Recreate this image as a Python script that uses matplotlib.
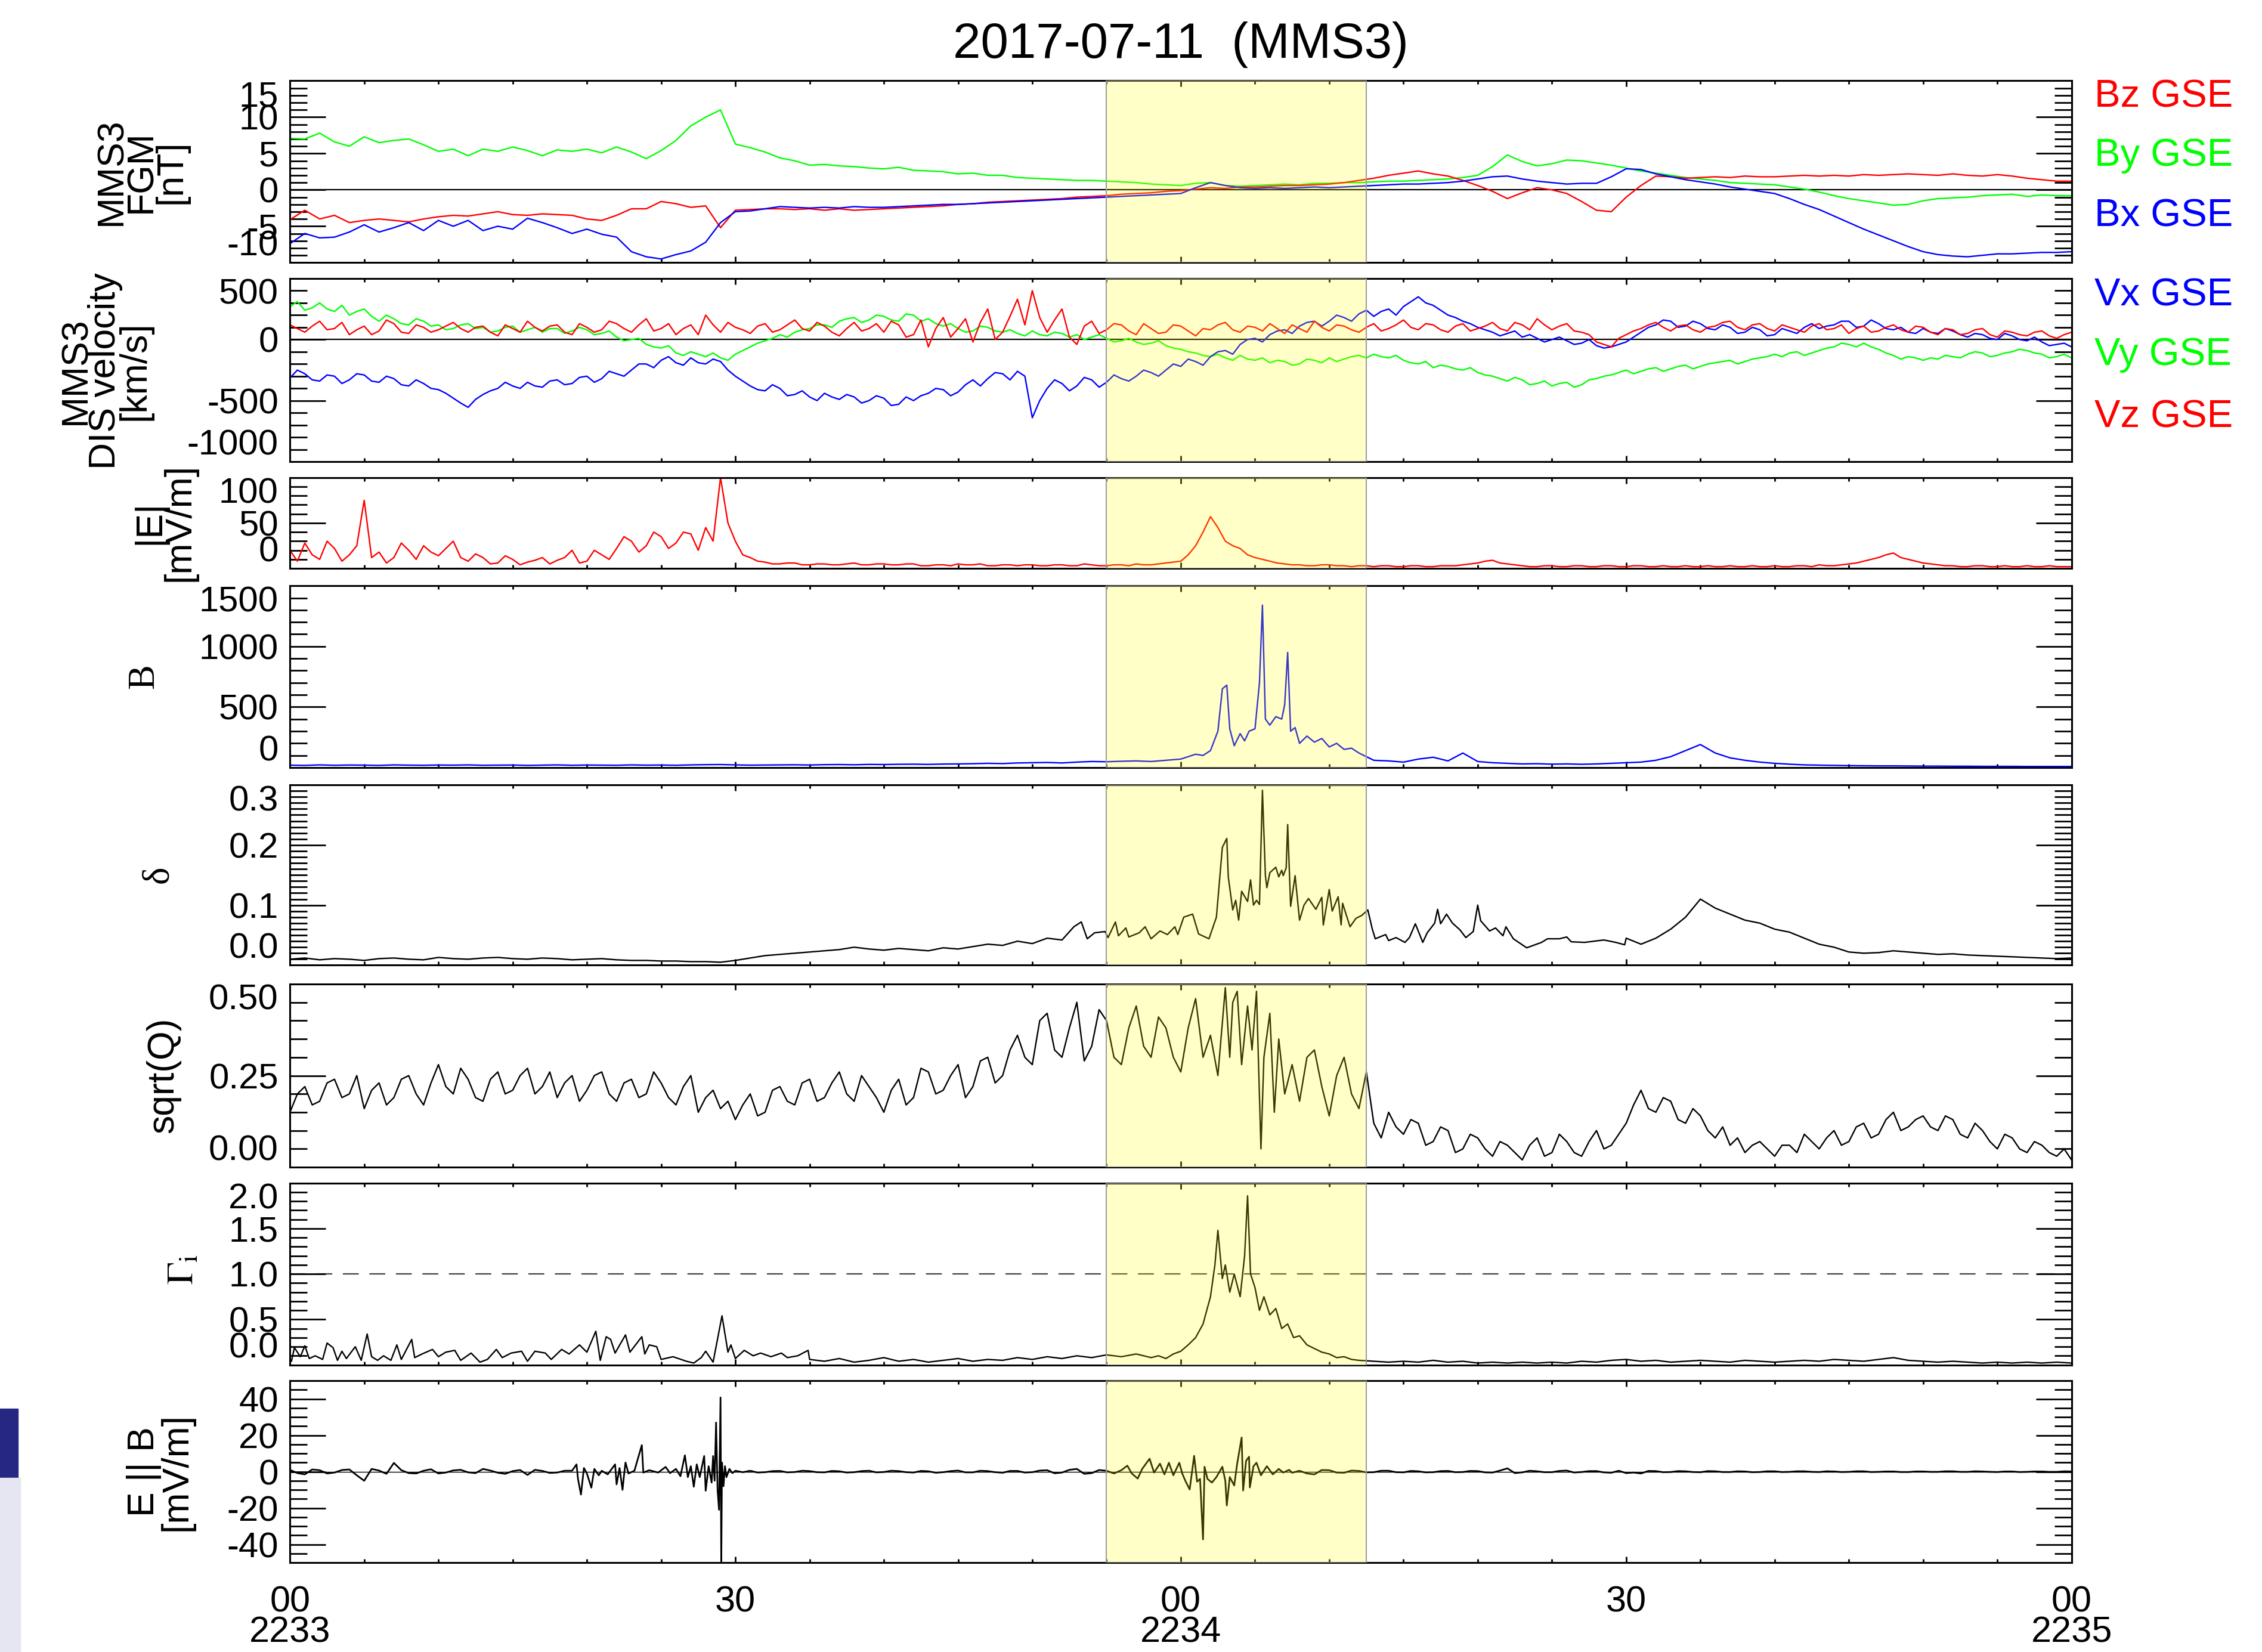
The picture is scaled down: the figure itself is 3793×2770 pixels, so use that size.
import numpy as np
import matplotlib
matplotlib.use("Agg")
import matplotlib.pyplot as plt
from matplotlib.ticker import MultipleLocator, FormatStrFormatter
from matplotlib.patches import Rectangle

plt.rcParams['font.family'] = ['Liberation Sans', 'DejaVu Sans']
plt.rcParams['mathtext.fontset'] = 'stix'
plt.rcParams['axes.unicode_minus'] = False

# ---- data, seconds after 22:33:00 ----
# "*_half" lists hold the readings taken half-way between whole seconds
bz_gse = [-4.1, -2.8, -4.0, -3.5, -4.5, -4.2, -4.0, -4.2, -4.4, -4.0,
          -3.7, -3.5, -3.6, -3.3, -3.0, -3.4, -3.5, -3.3, -3.4, -3.5,
          -4.0, -4.2, -3.5, -2.6, -2.6, -1.6, -1.9, -2.4, -2.2, -5.2,
          -2.8, -2.7, -2.6, -2.6, -2.7, -2.6, -2.8, -2.6, -2.8, -2.7,
          -2.6, -2.5, -2.4, -2.3, -2.2, -2.0, -1.9, -1.7, -1.6, -1.5,
          -1.4, -1.3, -1.2, -1.0, -0.9, -0.8, -0.6, -0.5, -0.4, -0.2,
          -0.1, 0.1, 0.3, 0.2, 0.4, 0.4, 0.5, 0.6, 0.6, 0.7,
          0.8, 1.0, 1.3, 1.6, 2.0, 2.3, 2.6, 2.2, 1.9, 1.3,
          0.6, -0.2, -1.2, -0.4, 0.3, 0.0, -0.5, -1.6, -2.8, -3.0,
          -1.0, 0.6, 1.9, 1.8, 1.6, 1.7, 1.8, 1.7, 1.9, 1.8,
          1.8, 1.9, 2.0, 1.9, 2.0, 1.9, 2.1, 2.0, 2.1, 2.2,
          2.1, 2.0, 2.2, 2.0, 1.9, 2.1, 1.9, 1.6, 1.4, 1.2,
          1.2]
by_gse = [7.1, 7.0, 7.8, 6.6, 6.0, 7.3, 6.5, 6.8, 7.0, 6.2,
          5.3, 5.6, 4.7, 5.6, 5.3, 5.9, 5.4, 4.7, 5.5, 5.3,
          5.6, 5.1, 5.9, 5.2, 4.3, 5.4, 6.8, 8.8, 10.0, 11.0,
          6.3, 5.8, 5.2, 4.4, 4.0, 3.4, 3.5, 3.3, 3.2, 3.0,
          2.9, 3.1, 2.7, 2.6, 2.5, 2.2, 2.3, 2.0, 2.0, 1.7,
          1.6, 1.5, 1.4, 1.3, 1.3, 1.2, 1.1, 1.0, 0.8, 0.7,
          0.6, 0.9, 1.0, 0.6, 0.5, 0.6, 0.7, 0.8, 0.7, 0.9,
          0.9, 1.0, 1.0, 1.1, 1.2, 1.2, 1.3, 1.4, 1.5, 1.7,
          2.0, 3.2, 4.8, 3.9, 3.3, 3.6, 4.1, 4.0, 3.7, 3.4,
          3.0, 2.6, 2.3, 2.0, 1.7, 1.5, 1.3, 1.0, 0.9, 0.8,
          0.7, 0.4, 0.1, -0.3, -0.8, -1.2, -1.5, -1.8, -2.1, -2.0,
          -1.5, -1.2, -1.1, -1.0, -0.8, -0.7, -0.6, -0.9, -0.7, -0.8,
          -0.8]
bx_gse = [-7.4, -6.0, -6.6, -6.5, -5.8, -4.8, -5.8, -5.2, -4.5, -5.6,
          -4.2, -5.0, -4.2, -5.6, -5.0, -5.4, -3.9, -4.5, -5.2, -6.0,
          -5.4, -6.1, -6.5, -8.5, -9.2, -9.5, -8.9, -8.4, -7.2, -4.5,
          -3.0, -2.9, -2.6, -2.3, -2.4, -2.5, -2.4, -2.5, -2.3, -2.4,
          -2.4, -2.3, -2.2, -2.1, -2.0, -2.0, -1.9, -1.8, -1.7, -1.6,
          -1.5, -1.4, -1.3, -1.2, -1.1, -1.0, -0.9, -0.8, -0.7, -0.6,
          -0.5, 0.3, 1.0, 0.6, 0.3, 0.2, 0.3, 0.2, 0.3, 0.4,
          0.3, 0.4, 0.5, 0.6, 0.7, 0.8, 0.8, 0.9, 1.0, 1.2,
          1.5, 1.8, 1.9, 1.5, 1.2, 1.0, 0.8, 0.9, 0.9, 1.8,
          2.9, 2.8, 2.2, 1.8, 1.4, 1.1, 0.8, 0.4, 0.1, -0.2,
          -0.5, -1.2, -2.0, -2.7, -3.6, -4.5, -5.4, -6.2, -7.0, -7.8,
          -8.5, -8.9, -9.1, -9.2, -9.0, -8.8, -8.8, -8.7, -8.6, -8.6,
          -8.5]

vx_gse = [-315, -280, -340, -300, -330, -290, -350, -320, -380, -360,
          -410, -480, -555, -450, -400, -380, -350, -390, -330, -360,
          -300, -320, -280, -250, -200, -170, -190, -150, -200, -180,
          -300, -380, -420, -400, -450, -470, -440, -490, -470, -500,
          -480, -530, -500, -440, -410, -430, -330, -320, -280, -260,
          -640, -400, -360, -380, -330, -350, -320, -300, -270, -250,
          -220, -180, -140, -90, -40, 10, 40, 80, 110, 150,
          150, 180, 210, 190, 250, 270, 350, 280, 200, 150,
          100, 60, 50, 20, 10, 0, -10, -30, -50, -60,
          -20, 60, 120, 150, 110, 130, 80, 100, 60, 80,
          40, 70, 100, 90, 120, 150, 110, 130, 80, 60,
          90, 50, 70, 20, 40, 0, 30, -10, -20, -40,
          -60]
vx_half = [-250, -330, -290, -360, -280, -340, -300, -370, -330, -400,
           -440, -520, -490, -420, -350, -400, -380, -340, -370, -310,
           -350, -260, -300, -200, -230, -140, -210, -190, -160, -250,
           -340, -410, -370, -460, -420, -500, -470, -450, -520, -460,
           -540, -470, -460, -400, -460, -370, -380, -270, -330, -300,
           -500, -330, -420, -310, -390, -290, -340, -250, -300, -200,
           -160, -210, -100, -120, 0, -20, 70, 50, 140, 110,
           200, 150, 240, 230, 200, 310, 300, 240, 180, 130,
           80, 30, 70, 40, -20, 20, -40, 0, -70, -40,
           20, 100, 160, 100, 150, 90, 120, 50, 100, 30,
           90, 50, 130, 110, 150, 100, 160, 90, 100, 50,
           60, 90, 40, 50, 10, 50, 0, 20, -50, -30]
vy_gse = [270, 240, 300, 230, 200, 250, 150, 170, 120, 150,
          120, 90, 130, 100, 70, 110, 80, 60, 90, 70,
          80, 50, 20, 0, -40, -70, -110, -100, -140, -150,
          -120, -60, -10, 40, 60, 90, 120, 150, 180, 160,
          190, 150, 200, 170, 110, 90, 70, 100, 60, 50,
          70, 30, 50, 40, 20, 10, -10, -20, -30, -50,
          -80, -110, -140, -150, -130, -170, -190, -180, -200, -170,
          -150, -160, -130, -120, -150, -170, -200, -230, -220, -250,
          -270, -300, -340, -330, -360, -380, -350, -370, -320, -290,
          -250, -260, -230, -240, -210, -220, -190, -170, -180, -150,
          -120, -110, -130, -90, -60, -40, -30, -80, -130, -140,
          -170, -160, -140, -120, -110, -130, -100, -90, -120, -140,
          -150]
vy_half = [310, 260, 250, 280, 230, 190, 200, 130, 170, 110,
           80, 120, 90, 60, 100, 60, 100, 90, 50, 100,
           40, 70, -10, 10, -60, -50, -130, -120, -110, -170,
           -90, -30, 10, 20, 80, 120, 100, 170, 140, 200,
           160, 210, 150, 130, 130, 60, 110, 70, 80, 30,
           40, 60, 20, 0, 40, -20, 10, -40, -10, -70,
           -100, -130, -120, -170, -160, -150, -170, -210, -160, -190,
           -180, -140, -150, -140, -130, -190, -180, -210, -240, -230,
           -290, -320, -310, -370, -340, -360, -390, -330, -300, -270,
           -280, -240, -260, -220, -240, -200, -180, -200, -160, -140,
           -140, -100, -110, -70, -30, -60, -60, -110, -160, -150,
           -150, -130, -150, -100, -140, -110, -80, -110, -150, -120]
vz_gse = [120, 60, 150, 90, 40, 110, 70, 130, 50, 100,
          80, 140, 60, 110, 30, 90, 150, 70, 120, 40,
          100, 80, 130, 60, 170, 90, 40, 120, 200, 60,
          100, 50, 130, 80, 160, 70, 110, 30, 140, 90,
          60, 120, 40, -60, 180, 90, -20, 250, 60, 330,
          400, 60, 250, -40, 150, 80, 120, 40, 90, 60,
          110, 30, 80, 140, 60, 100, 130, 50, 90, 150,
          70, 110, 60, 130, 90, 160, 80, 120, 60, 130,
          90, 140, 70, 120, 170, 80, 130, 60, -20, -60,
          40, 90, 140, 70, 120, 60, 110, 150, 80, 130,
          70, 100, 60, 130, 90, 50, 110, 70, 120, 60,
          100, 40, 80, 50, 90, 20, 60, 30, 70, 10,
          60]
vz_half = [90, 110, 80, 140, 80, 40, 160, 60, 120, 60,
           110, 90, 100, 60, 120, 60, 100, 110, 60, 130,
           60, 150, 90, 120, 70, 130, 90, 40, 120, 140,
           80, 110, 60, 120, 90, 140, 60, 90, 70, 130,
           150, 20, 160, 90, 20, 170, 140, 0, 190, 120,
           180, 160, 20, 110, 50, 130, 70, 130, 50, 120,
           70, 90, 120, 80, 110, 70, 90, 120, 60, 100,
           120, 80, 100, 70, 120, 100, 130, 80, 110, 70,
           110, 90, 140, 80, 120, 110, 70, 40, -40, 10,
           70, 120, 100, 110, 80, 100, 140, 100, 120, 90,
           120, 80, 110, 80, 120, 90, 60, 100, 80, 110,
           60, 90, 40, 80, 40, 70, 40, 60, 30, 40]

e_mag = [20, 28, 10, 22, 15, 75, 18, 12, 20, 25,
         14, 30, 8, 12, 6, 10, 7, 12, 9, 20,
         8, 15, 22, 30, 25, 35, 28, 38, 45, 100,
         30, 12, 7, 5, 6, 4, 5, 4, 6, 4,
         5, 4, 5, 3, 4, 5, 4, 3, 4, 3,
         4, 3, 4, 3, 4, 3, 4, 5, 4, 6,
         8, 25, 57, 30, 22, 12, 8, 5, 4, 3,
         4, 3, 3, 2, 3, 2, 3, 2, 3, 4,
         6, 9, 5, 3, 2, 3, 2, 3, 2, 3,
         2, 3, 2, 2, 3, 2, 2, 3, 2, 2,
         3, 2, 3, 4, 3, 5, 8, 12, 17, 10,
         6, 4, 3, 2, 3, 2, 2, 3, 2, 2,
         2]
e_mag_half = [8, 15, 30, 8, 25, 12, 6, 28, 10, 18,
              22, 12, 16, 5, 14, 4, 9, 5, 12, 6,
              20, 10, 35, 18, 40, 22, 40, 20, 30, 50,
              15, 8, 5, 6, 4, 5, 4, 5, 4, 5,
              4, 5, 3, 4, 3, 4, 5, 3, 4, 4,
              3, 4, 3, 5, 3, 4, 3, 4, 5, 7,
              15, 40, 45, 25, 15, 10, 6, 4, 3, 4,
              3, 2, 3, 3, 2, 3, 2, 3, 3, 5,
              8, 6, 4, 2, 3, 2, 3, 2, 3, 2,
              3, 2, 3, 2, 2, 3, 2, 2, 3, 2,
              2, 3, 2, 3, 4, 6, 10, 15, 12, 8,
              5, 3, 2, 3, 2, 3, 2, 2, 3, 2]

b_mag = [20, 18, 22, 19, 21, 20, 18, 22, 20, 19,
         21, 20, 22, 19, 20, 21, 18, 20, 22, 19,
         21, 20, 19, 22, 20, 21, 19, 22, 24, 25,
         22, 20, 21, 22, 23, 21, 24, 25, 23, 26,
         25, 27, 28, 26, 29, 30, 32, 35, 33, 38,
         40, 42, 38, 45, 50, 48, 52, 55, 50, 60,
         70, 110, 140, 680, 280, 320, 350, 950, 260, 210,
         170, 150, 120, 70, 55, 45, 70, 85, 55, 120,
         50, 40, 35, 30, 32, 28, 30, 27, 30, 35,
         40, 45, 60, 90, 140, 190, 120, 80, 60, 45,
         35, 28, 22, 20, 18, 16, 15, 14, 14, 13,
         12, 12, 11, 11, 10, 10, 10, 9, 9, 9,
         9]
b_mag_det_t = [60.0, 60.5, 61.0, 61.5, 62.0, 62.5, 62.8, 63.1, 63.3, 63.6, 64.0, 64.3,
               64.6, 65.0, 65.3, 65.5, 65.7, 66.0, 66.4, 66.8, 67.0, 67.2, 67.4, 67.7,
               68.0, 68.5, 69.0, 69.5, 70.0, 70.5, 71.0, 71.5, 72.0, 72.5, 73.0]
b_mag_det_v = [70, 90, 110, 100, 140, 300, 650, 680, 320, 180, 280, 220,
               300, 320, 700, 1340, 400, 350, 420, 400, 520, 950, 300, 330,
               200, 260, 210, 240, 170, 200, 150, 160, 120, 90, 60]

delta = [0.010, 0.012, 0.009, 0.011, 0.010, 0.008, 0.011, 0.012, 0.010, 0.009,
         0.013, 0.011, 0.010, 0.012, 0.013, 0.011, 0.010, 0.012, 0.011, 0.009,
         0.010, 0.011, 0.009, 0.008, 0.008, 0.007, 0.007, 0.006, 0.006, 0.005,
         0.008, 0.012, 0.016, 0.018, 0.020, 0.022, 0.024, 0.026, 0.030, 0.027,
         0.025, 0.028, 0.026, 0.024, 0.029, 0.027, 0.031, 0.035, 0.033, 0.040,
         0.036, 0.045, 0.042, 0.050, 0.055, 0.050, 0.055, 0.060, 0.050, 0.055,
         0.06, 0.06, 0.10, 0.20, 0.12, 0.25, 0.15, 0.20, 0.10, 0.10,
         0.11, 0.07, 0.08, 0.05, 0.04, 0.04, 0.05, 0.08, 0.07, 0.06,
         0.08, 0.06, 0.05, 0.03, 0.04, 0.04, 0.04, 0.04, 0.04, 0.04,
         0.045, 0.035, 0.045, 0.060, 0.080, 0.110, 0.095, 0.085, 0.075, 0.070,
         0.060, 0.055, 0.045, 0.035, 0.030, 0.022, 0.020, 0.021, 0.024, 0.022,
         0.020, 0.018, 0.019, 0.017, 0.016, 0.015, 0.014, 0.013, 0.012, 0.011,
         0.012]
delta_det_t = [52.8, 53.3, 53.7, 54.2, 54.9, 55.1, 55.6, 55.8, 56.3, 56.5, 57.2, 57.6,
               58.0, 58.6, 59.1, 59.6, 59.8, 60.2, 60.8, 61.2, 61.9, 62.4, 62.8, 63.1,
               63.2, 63.5, 63.7, 63.9, 64.1, 64.5, 64.7, 64.9, 65.1, 65.3, 65.5, 65.7,
               65.8, 66.0, 66.4, 66.6, 66.8, 66.9, 67.1, 67.2, 67.4, 67.7, 68.0, 68.3,
               68.6, 69.1, 69.5, 69.6, 70.0, 70.2, 70.6, 70.8, 70.9, 71.4, 71.8, 72.2,
               72.6, 72.9, 73.1, 73.8, 74.0, 74.5, 75.1, 75.4, 75.8, 76.3, 76.6, 77.1,
               77.3, 77.5, 77.9, 78.3, 78.8, 79.2, 79.7, 80.0, 80.2, 80.8, 81.2, 81.7,
               81.9, 82.4, 83.3, 84.3, 84.7, 85.5, 86.0, 86.3, 87.2, 88.5, 89.3, 89.9]
delta_det_v = [0.064, 0.072, 0.044, 0.054, 0.056, 0.046, 0.072, 0.049, 0.062, 0.047, 0.054, 0.064,
               0.044, 0.057, 0.051, 0.064, 0.051, 0.080, 0.085, 0.052, 0.044, 0.080, 0.196, 0.211,
               0.147, 0.092, 0.108, 0.075, 0.123, 0.106, 0.142, 0.100, 0.108, 0.101, 0.291, 0.149,
               0.129, 0.154, 0.163, 0.147, 0.158, 0.149, 0.162, 0.234, 0.098, 0.149, 0.075, 0.100,
               0.111, 0.093, 0.113, 0.067, 0.126, 0.090, 0.114, 0.067, 0.103, 0.064, 0.078, 0.083,
               0.092, 0.060, 0.044, 0.051, 0.041, 0.046, 0.038, 0.046, 0.069, 0.038, 0.054, 0.070,
               0.093, 0.069, 0.085, 0.070, 0.059, 0.046, 0.056, 0.100, 0.074, 0.057, 0.062, 0.049,
               0.064, 0.044, 0.029, 0.038, 0.044, 0.044, 0.047, 0.039, 0.038, 0.042, 0.038, 0.034]

sqrt_q = [0.15, 0.22, 0.18, 0.24, 0.20, 0.16, 0.23, 0.19, 0.25, 0.17,
          0.28, 0.20, 0.24, 0.18, 0.26, 0.21, 0.27, 0.22, 0.19, 0.25,
          0.21, 0.26, 0.18, 0.24, 0.20, 0.23, 0.17, 0.25, 0.19, 0.16,
          0.13, 0.20, 0.15, 0.22, 0.17, 0.24, 0.19, 0.26, 0.18, 0.22,
          0.15, 0.24, 0.19, 0.26, 0.21, 0.28, 0.22, 0.30, 0.25, 0.36,
          0.28, 0.42, 0.30, 0.45, 0.33, 0.40, 0.28, 0.44, 0.30, 0.38,
          0.26, 0.42, 0.33, 0.47, 0.35, 0.48, 0.06, 0.40, 0.18, 0.32,
          0.14, 0.30, 0.16, 0.12, 0.15, 0.09, 0.12, 0.07, 0.10, 0.05,
          0.08, 0.03, 0.06, 0.02, 0.08, 0.04, 0.07, 0.03, 0.10, 0.06,
          0.12, 0.21, 0.15, 0.18, 0.12, 0.14, 0.08, 0.06, 0.04, 0.07,
          0.03, 0.06, 0.09, 0.05, 0.10, 0.07, 0.12, 0.09, 0.15, 0.11,
          0.14, 0.10, 0.13, 0.08, 0.10, 0.05, 0.08, 0.04, 0.06, 0.03,
          0.02]
sqrt_q_half = [0.20, 0.17, 0.23, 0.19, 0.25, 0.21, 0.17, 0.24, 0.20, 0.23,
               0.22, 0.27, 0.19, 0.24, 0.20, 0.25, 0.20, 0.26, 0.23, 0.18,
               0.25, 0.20, 0.23, 0.19, 0.26, 0.19, 0.22, 0.15, 0.21, 0.18,
               0.17, 0.14, 0.21, 0.18, 0.23, 0.18, 0.23, 0.20, 0.25, 0.19,
               0.21, 0.17, 0.27, 0.20, 0.25, 0.19, 0.29, 0.23, 0.32, 0.30,
               0.40, 0.32, 0.38, 0.29, 0.43, 0.30, 0.38, 0.33, 0.41, 0.30,
               0.35, 0.30, 0.40, 0.30, 0.45, 0.30, 0.25, 0.28, 0.30, 0.22,
               0.25, 0.20, 0.26, 0.08, 0.11, 0.13, 0.06, 0.11, 0.04, 0.09,
               0.05, 0.07, 0.04, 0.06, 0.03, 0.09, 0.04, 0.07, 0.05, 0.09,
               0.17, 0.16, 0.19, 0.13, 0.16, 0.10, 0.11, 0.08, 0.06, 0.05,
               0.06, 0.04, 0.07, 0.08, 0.06, 0.11, 0.08, 0.13, 0.10, 0.13,
               0.11, 0.14, 0.09, 0.12, 0.07, 0.09, 0.05, 0.07, 0.04, 0.05]
sqrt_q_det_t = [60.0, 60.5, 61.0, 61.5, 62.0, 62.5, 63.0, 63.3, 63.5, 63.8, 64.1, 64.5,
                64.8, 65.1, 65.4, 65.6, 66.0, 66.3, 66.6, 67.0]
sqrt_q_det_v = [0.26, 0.38, 0.46, 0.30, 0.36, 0.25, 0.49, 0.30, 0.45, 0.48, 0.28, 0.44,
                0.32, 0.48, 0.05, 0.30, 0.42, 0.15, 0.35, 0.20]

gamma_i = [0.04, 0.21, 0.06, 0.05, 0.20, 0.34, 0.05, 0.22, 0.28, 0.12,
           0.09, 0.16, 0.13, 0.06, 0.17, 0.13, 0.04, 0.13, 0.17, 0.22,
           0.14, 0.31, 0.13, 0.31, 0.22, 0.06, 0.09, 0.02, 0.15, 0.54,
           0.07, 0.10, 0.13, 0.08, 0.10, 0.06, 0.04, 0.07, 0.03, 0.05,
           0.08, 0.04, 0.06, 0.03, 0.05, 0.07, 0.04, 0.06, 0.05, 0.08,
           0.06, 0.09, 0.07, 0.10, 0.08, 0.11, 0.09, 0.12, 0.08, 0.12,
           0.15, 0.30, 0.75, 1.10, 0.75, 0.85, 0.55, 0.45, 0.32, 0.18,
           0.12, 0.09, 0.05, 0.04, 0.03, 0.04, 0.03, 0.05, 0.03, 0.04,
           0.02, 0.03, 0.02, 0.03, 0.02, 0.03, 0.02, 0.04, 0.03, 0.05,
           0.06, 0.04, 0.05, 0.03, 0.04, 0.05, 0.04, 0.03, 0.05, 0.04,
           0.03, 0.04, 0.05, 0.04, 0.06, 0.05, 0.04, 0.06, 0.08, 0.05,
           0.04, 0.03, 0.04, 0.03, 0.02, 0.03, 0.02, 0.03, 0.02, 0.03,
           0.02]
gamma_early_t = [0.1, 0.3, 0.7, 1.0, 1.3, 1.7, 2.2, 2.5, 2.9, 3.2, 3.5, 3.8, 4.4, 4.8,
                 5.2, 5.5, 5.9, 6.3, 6.8, 7.2, 7.5, 8.2, 8.4, 8.9, 9.6, 10.0, 10.5, 11.1,
                 11.5, 12.2, 12.8, 13.3, 13.9, 14.3, 14.9, 15.6, 16.0, 16.5, 17.2, 17.6,
                 18.3, 18.8, 19.5, 20.0, 20.6, 20.9, 21.3, 21.6, 21.9, 22.6, 22.9, 23.7,
                 23.9, 24.2, 24.7, 25.0, 25.8, 26.7, 27.2, 27.7, 28.0, 28.5, 29.1, 29.5,
                 29.7, 30.0, 30.6, 31.2, 31.7, 32.4, 33.1, 33.5, 34.2, 34.9]
gamma_early_v = [0.04, 0.19, 0.09, 0.21, 0.07, 0.10, 0.06, 0.24, 0.19, 0.05, 0.15, 0.07, 0.20, 0.05,
                 0.34, 0.09, 0.05, 0.10, 0.05, 0.22, 0.06, 0.28, 0.08, 0.12, 0.17, 0.09, 0.14, 0.16,
                 0.05, 0.13, 0.03, 0.06, 0.17, 0.08, 0.13, 0.15, 0.04, 0.15, 0.13, 0.06,
                 0.17, 0.12, 0.22, 0.14, 0.37, 0.05, 0.31, 0.28, 0.13, 0.33, 0.14, 0.31,
                 0.12, 0.22, 0.20, 0.06, 0.09, 0.04, 0.02, 0.08, 0.15, 0.03, 0.54, 0.14,
                 0.22, 0.07, 0.16, 0.10, 0.13, 0.09, 0.13, 0.08, 0.10, 0.16]
gamma_mid_t = [58.0, 58.5, 59.0, 59.5, 60.0, 60.5, 61.0, 61.5, 62.0, 62.3, 62.5, 62.8, 63.0,
               63.3, 63.6, 64.0, 64.3, 64.5, 64.7, 65.0, 65.3, 65.6, 66.0, 66.4, 66.8, 67.2,
               67.6, 68.0, 68.5, 69.0, 69.5, 70.0, 70.5, 71.0, 71.5, 72.0, 73.0, 74.0]
gamma_mid_v = [0.08, 0.10, 0.07, 0.12, 0.15, 0.22, 0.30, 0.45, 0.75, 1.10, 1.48, 0.95, 1.10,
               0.80, 1.00, 0.75, 1.20, 1.86, 1.00, 0.85, 0.60, 0.75, 0.55, 0.62, 0.40, 0.45,
               0.30, 0.32, 0.22, 0.18, 0.14, 0.12, 0.08, 0.09, 0.06, 0.05, 0.04, 0.03]

e_par = [1.0, -1.5, 0.8, -0.5, 1.2, -5.0, 0.6, 4.8, -0.8, 0.5,
         -1.0, 0.7, -0.4, 1.5, -0.6, 0.3, -1.8, 0.4, -0.5, 0.8,
         -1.0, 1.0, -2.0, 1.5, -1.0, 2.5, -1.5, 2.0, -3.0, 5.0,
         -1.0, 0.5, -0.3, 0.4, -0.2, 0.3, -0.4, 0.2, -0.3, 0.5,
         -0.2, 0.3, -0.5, 0.2, -0.3, 0.6, -0.4, 0.3, -0.6, 0.4,
         -0.3, 0.8, -0.5, 1.5, -0.8, 0.5, -1.0, 0.8, -1.2, 1.0,
         -0.8, 1.2, -1.5, 2.0, -1.0, 1.5, -0.8, 0.6, 0.5, -1.5,
         0.8, -0.6, 0.4, -0.3, 0.5, -0.4, 0.2, -0.3, 0.4, -0.2,
         0.3, -0.5, 1.8, -0.4, 0.2, -0.3, 0.6, -0.2, 0.3, -0.6,
         -0.8, -1.0, 0.3, -0.2, 0.2, -0.3, 0.2, -0.2, 0.1, -0.2,
         0.2, -0.1, 0.2, -0.2, 0.1, -0.1, 0.2, -0.1, 0.1, -0.2,
         0.1, -0.1, 0.2, -0.1, 0.1, -0.2, 0.1, -0.1, 0.1, -0.1,
         0.1]
e_par_half = [-0.8, 1.2, -1.0, 0.9, -2.0, 1.5, -1.2, 0.8, -1.0, 1.3,
              -0.5, 1.0, -0.8, 0.6, -1.2, 0.9, 1.0, -0.7, 0.5, -0.9,
              0.8, -1.0, 1.2, -0.8, 1.0, -1.2, 0.8, -1.0, 1.5, -0.8,
              0.4, -0.5, 0.3, -0.4, 0.5, -0.3, 0.4, -0.5, 0.3, -0.4,
              0.5, -0.3, 0.4, -0.6, 0.3, -0.4, 0.5, -0.3, 0.4, -0.5,
              0.6, -0.9, 1.0, -1.2, 0.9, -0.7, 1.2, -0.8, 1.1, -0.9,
              1.0, -1.2, 1.4, -1.5, 1.2, -1.0, 0.8, -0.6, -1.0, 0.9,
              -0.5, 0.6, -0.4, 0.5, -0.3, 0.4, -0.4, 0.3, -0.3, 0.4,
              -0.4, 0.6, -0.8, 0.5, -0.3, 0.4, -0.5, 0.3, -0.4, 0.5,
              -0.5, 0.4, -0.3, 0.3, -0.2, 0.3, -0.2, 0.2, -0.3, 0.2,
              -0.2, 0.2, -0.1, 0.2, -0.2, 0.2, -0.2, 0.1, -0.2, 0.1,
              -0.1, 0.2, -0.1, 0.2, -0.1, 0.1, -0.2, 0.1, -0.1, 0.2]
e_par_a_t = [19.0, 19.3, 19.4, 19.6, 19.8, 20.0, 20.3, 20.5, 20.8, 21.0, 21.4, 21.9, 22.0,
             22.2, 22.4, 22.5, 22.6, 22.8, 23.2, 23.7, 23.8, 24.2, 24.8, 25.3, 25.6, 26.0,
             26.3, 26.6, 26.8, 27.0, 27.2, 27.4, 27.6, 27.9, 28.0, 28.2, 28.4, 28.5, 28.6,
             28.7, 28.8, 28.9, 29.0, 29.05, 29.1, 29.2, 29.3, 29.4, 29.6, 29.8, 30.0, 30.5]
e_par_a_v = [0.5, 4.0, -4.0, -12.6, 2.0, -1.0, -8.8, 1.5, -2.0, 0.5, -1.5, 4.0, -7.0,
             2.0, -10.0, -2.0, 5.0, -1.0, 0.5, 14.6, -0.5, 0.8, -0.5, 2.6, -0.8, 1.5,
             -2.5, 9.0, -3.0, 3.0, -8.3, 4.0, -3.0, 8.6, -10.5, 3.0, -6.0, 8.6, -5.0,
             27.0, -10.0, -21.0, 40.8, -52.0, 5.0, -8.0, 3.0, -3.0, 1.5, -0.8, 0.5, -0.3]
e_par_b_t = [55.0, 55.5, 56.0, 56.4, 56.7, 57.1, 57.4, 57.9, 58.2, 58.6, 58.9, 59.2, 59.5,
             59.9, 60.1, 60.3, 60.6, 60.9, 61.1, 61.3, 61.5, 61.6, 61.8, 62.1, 62.4, 62.8,
             63.0, 63.1, 63.3, 63.6, 63.8, 64.1, 64.2, 64.4, 64.6, 64.65, 64.9, 65.1, 65.4,
             65.8, 66.2, 66.6, 66.9, 67.3]
e_par_b_v = [0.5, -1.0, 0.8, 3.3, -1.0, -3.8, 1.5, 7.1, -0.5, 4.4, -1.5, 4.9, -2.0,
             4.9, -1.0, -4.9, -9.8, 8.7, -5.5, -4.0, -37.3, 2.7, -4.0, -6.0, -3.0, 2.7,
             -5.0, -18.6, -3.0, -7.6, 4.4, 18.8, -10.4, 6.0, 8.2, -8.7, 3.0, 4.9, -2.0,
             3.0, -1.5, 1.5, -0.5, 1.0]

shade_start, shade_end = 55.0, 72.5
x_ticks = [0, 30, 60, 90, 120]
x_ticklabels = ['00\n2233', '30', '00\n2234', '30', '00\n2235']


def interleave(whole, half=None):
    t = np.arange(len(whole), dtype=float)
    v = np.asarray(whole, dtype=float)
    if half is not None:
        t = np.concatenate([t, np.arange(len(half)) + 0.5])
        v = np.concatenate([v, np.asarray(half, float)])
        order = np.argsort(t)
        t, v = t[order], v[order]
    return t, v


def splice(t, v, *details):
    # denser readings replace the base series over their own time windows
    for dt, dv in details:
        dt = np.asarray(dt, float)
        keep = (t < dt[0]) | (t > dt[-1])
        t = np.concatenate([t[keep], dt])
        v = np.concatenate([v[keep], np.asarray(dv, float)])
        order = np.argsort(t)
        t, v = t[order], v[order]
    return t, v


sec = np.arange(len(bz_gse), dtype=float)

W, H = 1568.0, 1145.0
fig = plt.figure(figsize=(37.93, 27.70), dpi=100)


def make_axes(top, bottom):
    return fig.add_axes([201 / W, 1 - bottom / H, (1436 - 201) / W, (bottom - top) / H])


panels = [(56, 182), (193, 320), (331, 394), (406, 532),
          (544, 669), (682, 809), (820, 946), (957, 1083)]
axes = [make_axes(t, b) for t, b in panels]

lw = 1.7
ax = axes[0]
ax.axhline(0, color='k', lw=1.6, zorder=1)
ax.plot(sec, by_gse, color='#00ff00', lw=lw)
ax.plot(sec, bz_gse, color='#ff0000', lw=lw)
ax.plot(sec, bx_gse, color='#0000ff', lw=lw)
ax.set_ylim(-10, 15)
ax.set_yticks([-10, -5, 0, 5, 10, 15])
ax.yaxis.set_minor_locator(MultipleLocator(1))

ax = axes[1]
ax.axhline(0, color='k', lw=1.6, zorder=1)
ax.plot(*interleave(vy_gse, vy_half), color='#00ff00', lw=lw)
ax.plot(*interleave(vx_gse, vx_half), color='#0000ff', lw=lw)
ax.plot(*interleave(vz_gse, vz_half), color='#ff0000', lw=lw)
ax.set_ylim(-1000, 500)
ax.set_yticks([-1000, -500, 0, 500])
ax.yaxis.set_minor_locator(MultipleLocator(100))

ax = axes[2]
ax.plot(*interleave(e_mag, e_mag_half), color='#ff0000', lw=lw)
ax.set_ylim(0, 100)
ax.set_yticks([0, 50, 100])
ax.yaxis.set_minor_locator(MultipleLocator(10))

ax = axes[3]
t, v = splice(*interleave(b_mag), (b_mag_det_t, b_mag_det_v))
ax.plot(t, v, color='#0000ff', lw=lw)
ax.set_ylim(0, 1500)
ax.set_yticks([0, 500, 1000, 1500])
ax.yaxis.set_minor_locator(MultipleLocator(100))

ax = axes[4]
t, v = splice(*interleave(delta), (delta_det_t, delta_det_v))
ax.plot(t, v, color='k', lw=lw)
ax.set_ylim(0, 0.3)
ax.set_yticks([0, 0.1, 0.2, 0.3])
ax.yaxis.set_major_formatter(FormatStrFormatter('%.1f'))
ax.yaxis.set_minor_locator(MultipleLocator(0.01))

ax = axes[5]
t, v = splice(*interleave(sqrt_q, sqrt_q_half), (sqrt_q_det_t, sqrt_q_det_v))
ax.plot(t, v, color='k', lw=lw)
ax.set_ylim(0, 0.5)
ax.set_yticks([0, 0.25, 0.5])
ax.yaxis.set_major_formatter(FormatStrFormatter('%.2f'))
ax.yaxis.set_minor_locator(MultipleLocator(0.05))

ax = axes[6]
t, v = splice(*interleave(gamma_i), (gamma_early_t, gamma_early_v), (gamma_mid_t, gamma_mid_v))
ax.axhline(1.0, color='0.25', lw=1.6, ls=(0, (12, 8)), zorder=1)
ax.plot(t, v, color='k', lw=lw)
ax.set_ylim(0, 2)
ax.set_yticks([0, 0.5, 1.0, 1.5, 2.0])
ax.yaxis.set_major_formatter(FormatStrFormatter('%.1f'))
ax.yaxis.set_minor_locator(MultipleLocator(0.1))

ax = axes[7]
t, v = splice(*interleave(e_par, e_par_half), (e_par_a_t, e_par_a_v), (e_par_b_t, e_par_b_v))
ax.axhline(0, color='k', lw=1.0, zorder=1)
ax.plot(t, v, color='k', lw=2.0)
ax.set_ylim(-50, 50)
ax.set_yticks([-40, -20, 0, 20, 40])
ax.yaxis.set_minor_locator(MultipleLocator(5))

for i, ax in enumerate(axes):
    ax.set_xlim(0, 120)
    ax.set_xticks(x_ticks)
    ax.xaxis.set_minor_locator(MultipleLocator(5))
    ax.tick_params(which='both', direction='in', top=True, right=True,
                   width=2, labelsize=43, pad=14)
    ax.tick_params(axis='y', which='major', length=43)
    ax.tick_params(axis='y', which='minor', length=21)
    ax.tick_params(axis='x', which='major', length=7, pad=28)
    ax.tick_params(axis='x', which='minor', length=4)
    for s in ax.spines.values():
        s.set_linewidth(2.2)
    ax.axvspan(shade_start, shade_end, facecolor=(1, 1, 0, 0.22),
               edgecolor=(0.62, 0.62, 0.62, 1), lw=1.5, zorder=5)
    if i < 7:
        ax.tick_params(axis='x', labelbottom=False)
        # IDL-style: end labels pulled inside the panel
        ticks = ax.yaxis.get_major_ticks()
        ticks[0].label1.set_va('bottom')
        ticks[-1].label1.set_va('top')

axes[7].set_xticklabels(x_ticklabels, fontsize=44, linespacing=0.85)

fig.text(818.5 / W, 1 - 31 / H, '2017-07-11  (MMS3)', ha='center', va='center', fontsize=60)

lab = dict(rotation=90, ha='center', va='center', multialignment='center', fontsize=45)
fig.text(98 / W, 1 - 119 / H, 'MMS3\nFGM\n[nT]', linespacing=0.8, **lab)
fig.text(73 / W, 1 - 257 / H, 'MMS3\nDIS velocity\n[km/s]', linespacing=0.8, **lab)
fig.text(114 / W, 1 - 362 / H, '|E|\n[mV/m]', linespacing=0.8, **lab)
fig.text(100 / W, 1 - 469 / H, 'B', family='Liberation Serif', **lab)
fig.text(110 / W, 1 - 606 / H, 'δ', family='Liberation Serif', **lab)
fig.text(113 / W, 1 - 745 / H, 'sqrt(Q)', **lab)
fig.text(127 / W, 1 - 880 / H, r'$\Gamma_{\rm i}$', **lab)
fig.text(111 / W, 1 - 1020 / H, 'E || B\n[mV/m]', linespacing=0.9, **lab)

legend_rows = [('Bz GSE', '#ff0000', 67), ('By GSE', '#00ff00', 108), ('Bx GSE', '#0000ff', 150),
               ('Vx GSE', '#0000ff', 205), ('Vy GSE', '#00ff00', 246), ('Vz GSE', '#ff0000', 289)]
for txt, col, yy in legend_rows:
    fig.text(1452 / W, 1 - yy / H, txt, color=col, ha='left', va='center', fontsize=47)

# screenshot remnants at the left edge
fig.patches.append(Rectangle((0, 1 - 2478 / 2770), 30 / 3793, 116 / 2770,
                             transform=fig.transFigure, color='#262683', zorder=0))
fig.patches.append(Rectangle((0, 0), 34 / 3793, 292 / 2770,
                             transform=fig.transFigure, color='#e6e6f2', zorder=0))

fig.savefig('out.png', dpi=100)
